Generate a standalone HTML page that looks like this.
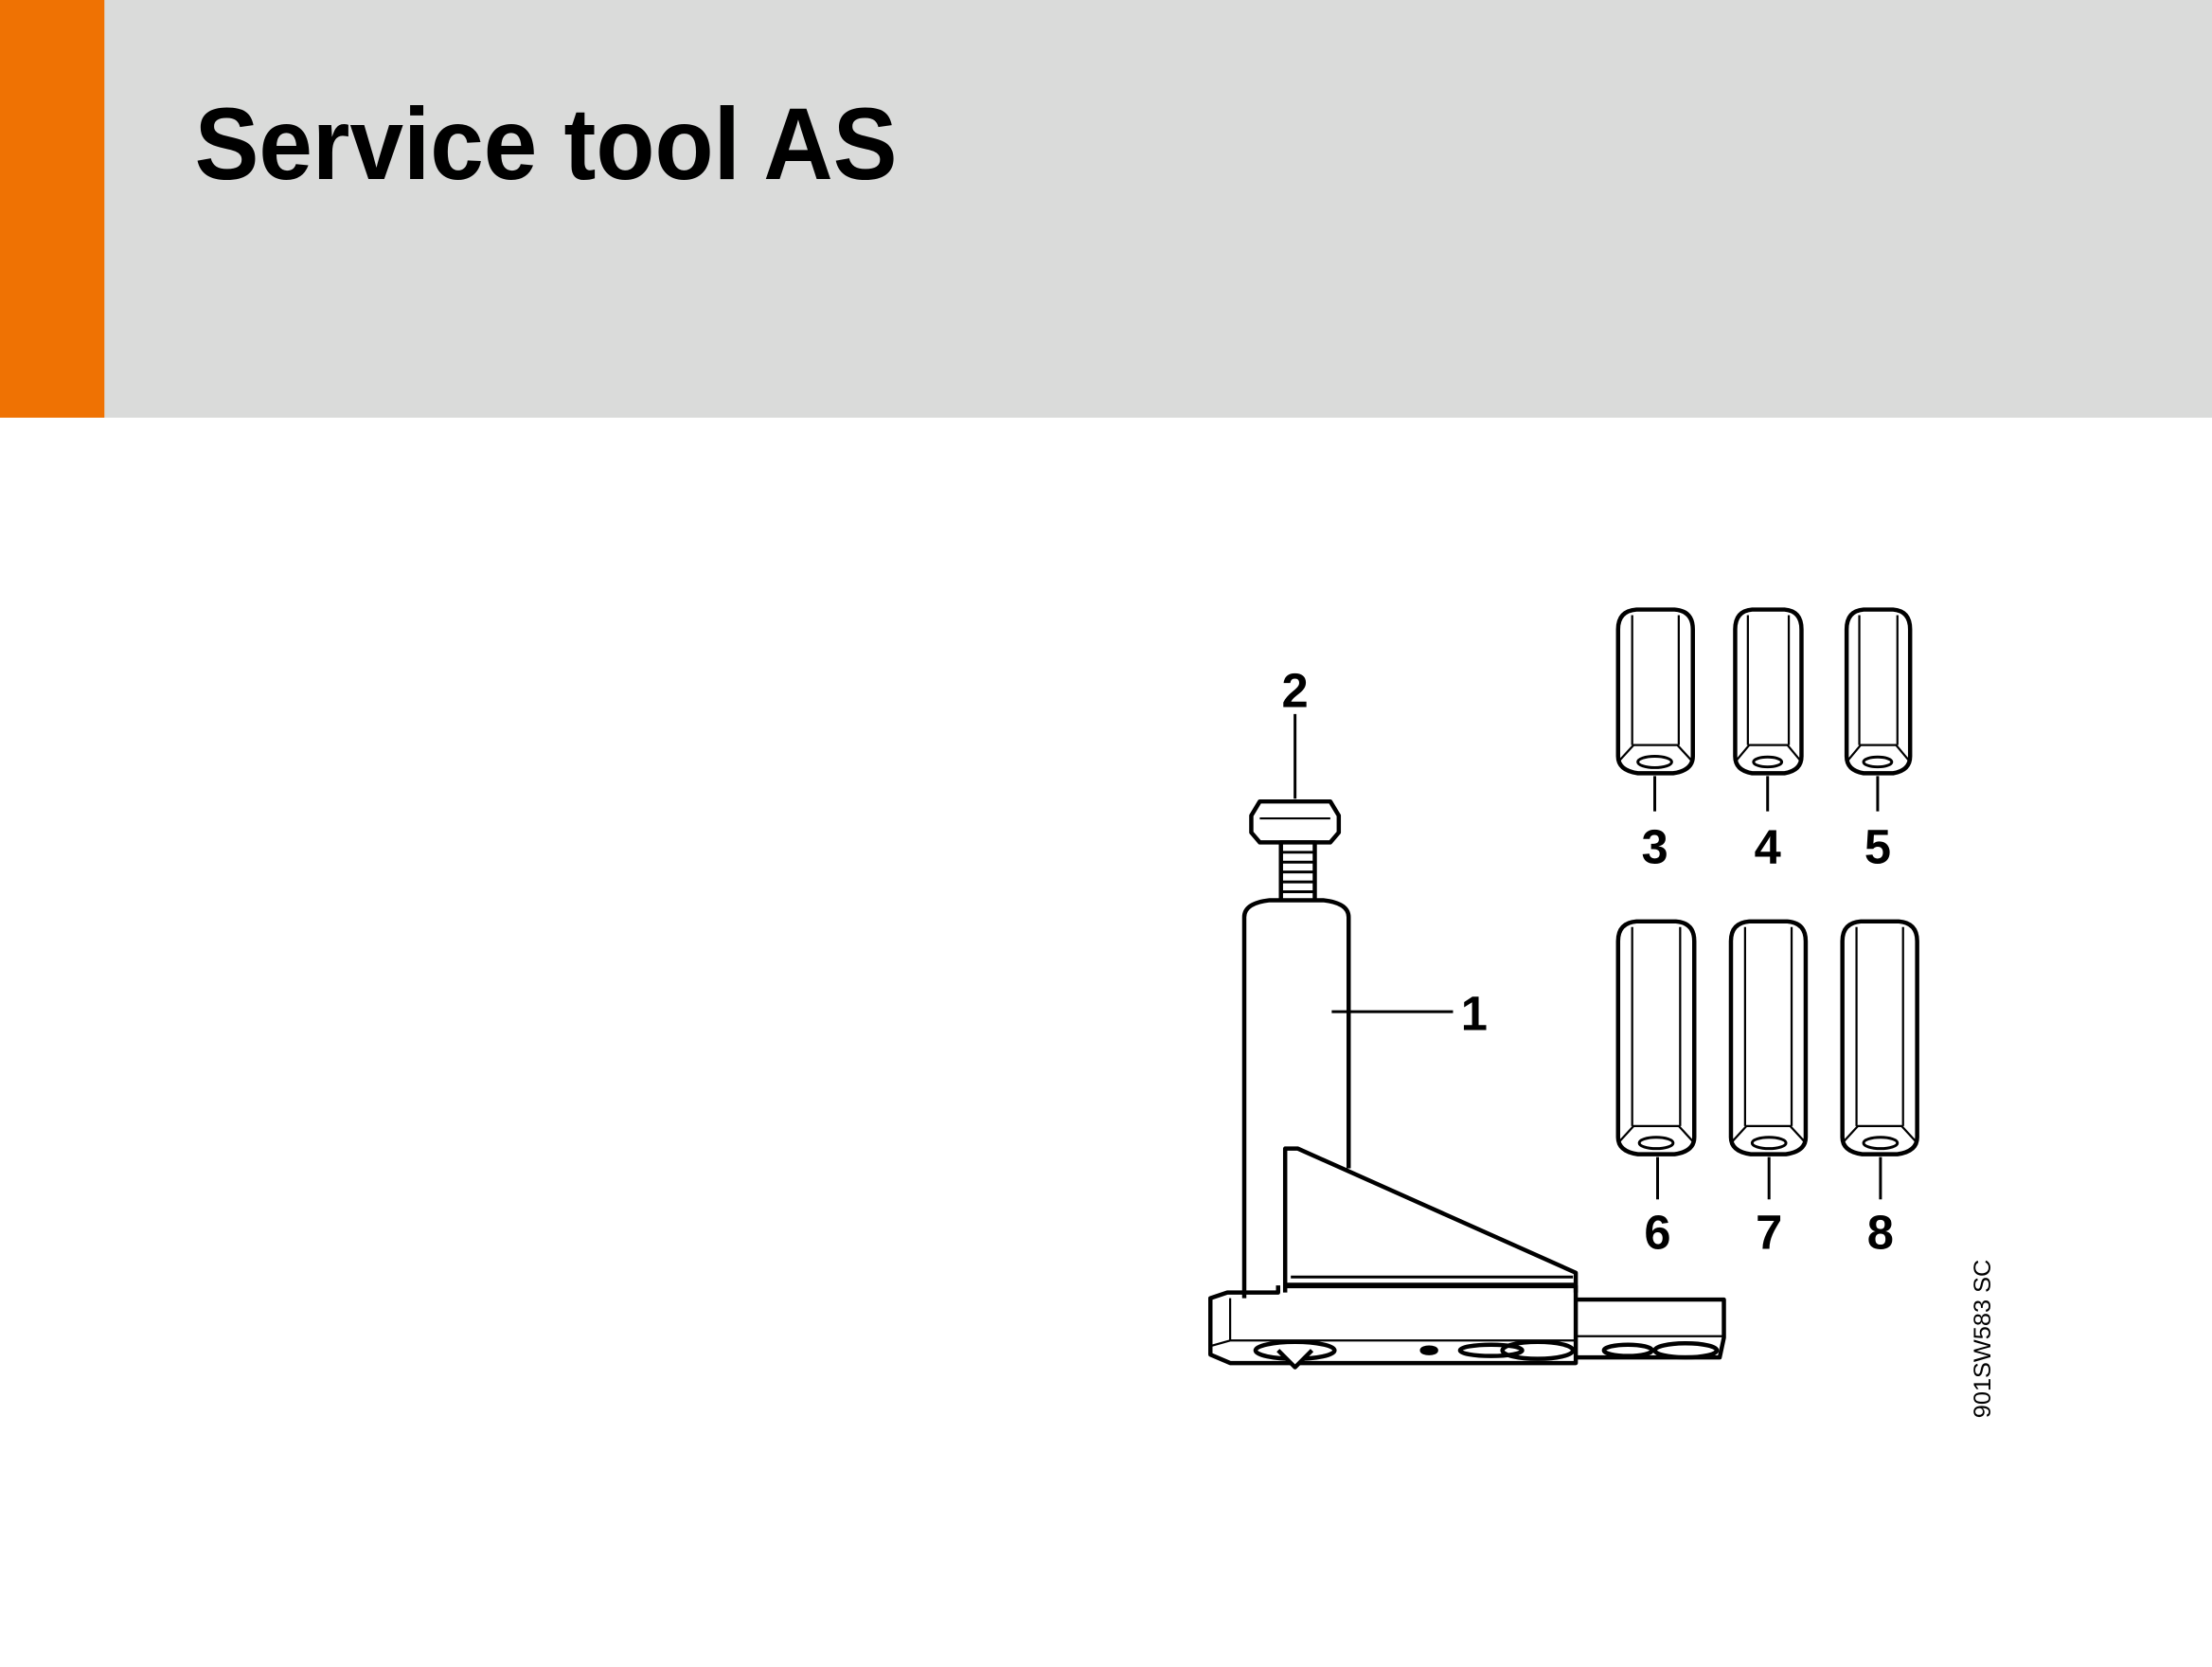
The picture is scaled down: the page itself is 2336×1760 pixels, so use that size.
<!DOCTYPE html>
<html><head><meta charset="utf-8"><style>
html,body{margin:0;padding:0;background:#fff;}
body{width:2336px;height:1760px;overflow:hidden;position:relative;}
</style></head><body>
<svg width="2336" height="1760" viewBox="0 0 1568 1181.4" preserveAspectRatio="none" style="position:absolute;left:0;top:0">
<rect x="0" y="0" width="1568" height="296" fill="#dadbda"/>
<rect x="0" y="0" width="74" height="296" fill="#ef7203"/>
<text x="138" y="127" font-family="Liberation Sans, sans-serif" font-weight="bold" font-size="72" textLength="498" lengthAdjust="spacingAndGlyphs" fill="#000">Service tool AS</text>

<g fill="none" stroke="#000" stroke-width="3" stroke-linejoin="round">
<!-- bolt -->
<line x1="918" y1="506" x2="918" y2="566" stroke-width="2"/>
<path d="M893 568 L943 568 L949 578 L949 590 L943 597 L893 597 L887 590 L887 578 Z" fill="#fff"/>
<line x1="893" y1="580" x2="943" y2="580" stroke-width="1.5"/>
<rect x="908" y="597" width="24" height="42" fill="#fff"/>
<g stroke-width="2"><line x1="908" y1="604" x2="932" y2="604"/><line x1="908" y1="611" x2="932" y2="611"/><line x1="908" y1="618" x2="932" y2="618"/><line x1="908" y1="625" x2="932" y2="625"/><line x1="908" y1="632" x2="932" y2="632"/></g>
<!-- column -->
<path d="M882 920 L882 650 Q882 640 900 638 L938 638 Q956 640 956 650 L956 828" fill="#fff"/>
<line x1="944" y1="717" x2="1030" y2="717" stroke-width="2"/>
<!-- gusset -->
<path d="M911 916 L911 814 L920 814 L1117 902 L1117 916"/>
<line x1="915" y1="905" x2="1115" y2="905" stroke-width="2"/>
<line x1="911" y1="911" x2="1117" y2="911" stroke-width="4"/>
<!-- base plate -->
<path d="M882 916 L906 916 L906 911 M882 916 L870 916 L858 920 L858 960 L872 966 L1117 966 L1117 911"/>
<line x1="872" y1="920" x2="872" y2="950" stroke-width="1.5"/>
<line x1="872" y1="950" x2="1117" y2="950" stroke-width="1.5"/>
<line x1="858" y1="954" x2="872" y2="950" stroke-width="1.5"/>
<path d="M1117 921 L1222 921 L1222 948 L1219 962 L1117 962"/>
<line x1="1117" y1="947" x2="1222" y2="947" stroke-width="1.5"/>
<ellipse cx="918" cy="957" rx="28" ry="6"/>
<path d="M906 957 L918 969 L930 957" fill="#fff"/>
<ellipse cx="1013" cy="957" rx="5" ry="2" fill="#000"/>
<ellipse cx="1057" cy="957" rx="22" ry="4"/>
<ellipse cx="1090" cy="957" rx="25" ry="6"/>
<ellipse cx="1154" cy="957" rx="17" ry="4"/>
<ellipse cx="1195" cy="957" rx="22" ry="5"/>
</g>
<g font-family="Liberation Sans, sans-serif" font-weight="bold" font-size="34" text-anchor="middle" fill="#000">
<text x="918" y="501">2</text>
<text x="1045" y="730">1</text>
<text x="1173" y="612">3</text>
<text x="1253" y="612">4</text>
<text x="1331" y="612">5</text>
<text x="1175" y="885">6</text>
<text x="1254" y="885">7</text>
<text x="1333" y="885">8</text>
</g>
<text transform="translate(1411 1005) rotate(-90)" font-family="Liberation Sans, sans-serif" font-size="17" fill="#000">901SW583 SC</text>

<g fill="none" stroke="#000" stroke-width="3" stroke-linejoin="round">
<!-- nuts: x, width, top, bottom -->
<path d="M1147 446 Q1147 433 1160 432 L1187 432 Q1200 433 1200 446 L1200 536 Q1200 546 1186 548 L1161 548 Q1147 546 1147 536 Z"/>
<g stroke-width="1.5"><line x1="1157" y1="436" x2="1157" y2="528"/><line x1="1190" y1="436" x2="1190" y2="528"/><path d="M1147 540 L1158 528 L1189 528 L1200 540"/></g>
<ellipse cx="1173" cy="540" rx="12" ry="4" stroke-width="2"/>
<line x1="1173" y1="550" x2="1173" y2="575" stroke-width="2"/>

<path d="M1230 446 Q1230 433 1242 432 L1265 432 Q1277 433 1277 446 L1277 536 Q1277 546 1265 548 L1242 548 Q1230 546 1230 536 Z"/>
<g stroke-width="1.5"><line x1="1239" y1="436" x2="1239" y2="528"/><line x1="1268" y1="436" x2="1268" y2="528"/><path d="M1230 540 L1240 528 L1267 528 L1277 540"/></g>
<ellipse cx="1253" cy="540" rx="10" ry="3.5" stroke-width="2"/>
<line x1="1253" y1="550" x2="1253" y2="575" stroke-width="2"/>

<path d="M1309 446 Q1309 433 1321 432 L1342 432 Q1354 433 1354 446 L1354 536 Q1354 546 1342 548 L1321 548 Q1309 546 1309 536 Z"/>
<g stroke-width="1.5"><line x1="1318" y1="436" x2="1318" y2="528"/><line x1="1345" y1="436" x2="1345" y2="528"/><path d="M1309 540 L1319 528 L1344 528 L1354 540"/></g>
<ellipse cx="1331" cy="540" rx="10" ry="3.5" stroke-width="2"/>
<line x1="1331" y1="550" x2="1331" y2="575" stroke-width="2"/>

<path d="M1147 667 Q1147 654 1160 653 L1188 653 Q1201 654 1201 667 L1201 806 Q1201 816 1187 818 L1161 818 Q1147 816 1147 806 Z"/>
<g stroke-width="1.5"><line x1="1157" y1="657" x2="1157" y2="798"/><line x1="1191" y1="657" x2="1191" y2="798"/><path d="M1147 810 L1158 798 L1190 798 L1201 810"/></g>
<ellipse cx="1174" cy="810" rx="12" ry="4" stroke-width="2"/>
<line x1="1175" y1="820" x2="1175" y2="850" stroke-width="2"/>

<path d="M1227 667 Q1227 654 1240 653 L1267 653 Q1280 654 1280 667 L1280 806 Q1280 816 1266 818 L1241 818 Q1227 816 1227 806 Z"/>
<g stroke-width="1.5"><line x1="1237" y1="657" x2="1237" y2="798"/><line x1="1270" y1="657" x2="1270" y2="798"/><path d="M1227 810 L1238 798 L1269 798 L1280 810"/></g>
<ellipse cx="1254" cy="810" rx="12" ry="4" stroke-width="2"/>
<line x1="1254" y1="820" x2="1254" y2="850" stroke-width="2"/>

<path d="M1306 667 Q1306 654 1319 653 L1346 653 Q1359 654 1359 667 L1359 806 Q1359 816 1345 818 L1320 818 Q1306 816 1306 806 Z"/>
<g stroke-width="1.5"><line x1="1316" y1="657" x2="1316" y2="798"/><line x1="1349" y1="657" x2="1349" y2="798"/><path d="M1306 810 L1317 798 L1348 798 L1359 810"/></g>
<ellipse cx="1333" cy="810" rx="12" ry="4" stroke-width="2"/>
<line x1="1333" y1="820" x2="1333" y2="850" stroke-width="2"/>
</g>
</svg>
</body></html>
